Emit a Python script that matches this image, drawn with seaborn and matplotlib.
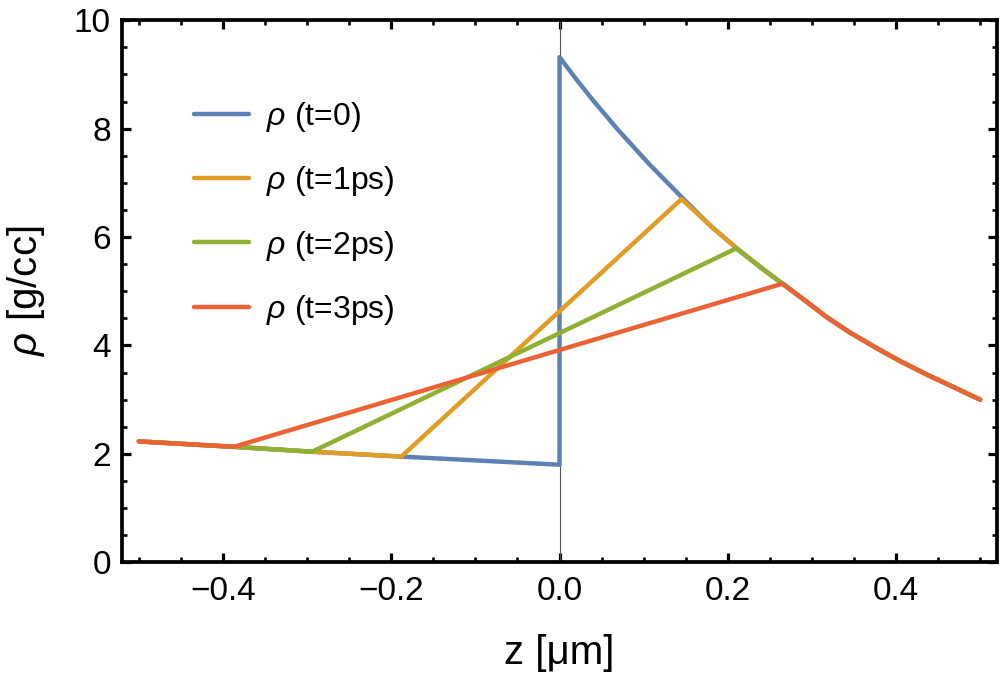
import pandas as pd
import seaborn as sns
import matplotlib.pyplot as plt
from matplotlib.ticker import MultipleLocator

# density profiles
tail_z = [0.18, 0.21, 0.24, 0.265, 0.29, 0.317, 0.345, 0.377, 0.405, 0.437, 0.47, 0.5]
tail_rho = [6.2, 5.8, 5.43, 5.14, 4.85, 4.53, 4.24, 3.95, 3.71, 3.46, 3.22, 3.0]

t0_z = [-0.5, -0.387, -0.294, -0.188, 0.0, 0.0, 0.02, 0.04, 0.07, 0.107, 0.145] + tail_z
t0_rho = [2.23, 2.13, 2.04, 1.95, 1.80, 9.32, 8.91, 8.52, 7.97, 7.34, 6.74] + tail_rho

t1_z = [-0.5, -0.387, -0.294, -0.188, 0.145] + tail_z
t1_rho = [2.23, 2.13, 2.04, 1.95, 6.7] + tail_rho

t2_z = [-0.5, -0.387, -0.294, 0.21] + tail_z[2:]
t2_rho = [2.23, 2.13, 2.04, 5.79] + tail_rho[2:]

t3_z = [-0.5, -0.387, 0.265] + tail_z[4:]
t3_rho = [2.23, 2.13, 5.14] + tail_rho[4:]

labels = [r"$\rho$ (t=0)", r"$\rho$ (t=1ps)", r"$\rho$ (t=2ps)", r"$\rho$ (t=3ps)"]
colors = ["#5E81B5", "#E19C24", "#8FB032", "#EB6235"]

frames = []
for lab, zs, rs in zip(labels, [t0_z, t1_z, t2_z, t3_z], [t0_rho, t1_rho, t2_rho, t3_rho]):
    frames.append(pd.DataFrame({"z": zs, "rho": rs, "series": lab}))
data = pd.concat(frames, ignore_index=True)

sns.set_style("ticks")
plt.rcParams["font.family"] = ["Liberation Sans", "DejaVu Sans"]
plt.rcParams["mathtext.fontset"] = "custom"
plt.rcParams["mathtext.rm"] = "Liberation Sans"
plt.rcParams["mathtext.it"] = "Liberation Sans:italic"
for key in ["text.color", "axes.labelcolor", "xtick.color", "ytick.color"]:
    plt.rcParams[key] = "black"

fig = plt.figure(figsize=(10, 6.75), dpi=100)
ax = fig.add_axes([0.122, 0.167, 0.875, 0.803])

# thin axis line at z=0
ax.axvline(0, color="#555555", lw=0.8, zorder=1)

sns.lineplot(data=data, x="z", y="rho", hue="series", palette=colors,
             sort=False, estimator=None, lw=3.2, ax=ax, zorder=3)

ax.set_xlim(-0.52, 0.52)
ax.set_ylim(0, 10)
ax.xaxis.set_minor_locator(MultipleLocator(0.05))
ax.yaxis.set_major_locator(MultipleLocator(2))
ax.yaxis.set_minor_locator(MultipleLocator(0.5))
ax.set_xticks([-0.4, -0.2, 0.0, 0.2, 0.4])
ax.set_xticklabels(["\u22120.4", "\u22120.2", "0.0", "0.2", "0.4"])

for s in ax.spines.values():
    s.set_linewidth(2.7)
    s.set_color("black")
ax.tick_params(which="both", direction="in", top=True, right=True, color="black")
ax.tick_params(which="major", length=6.5, width=2.3, labelsize=24)
ax.tick_params(which="minor", length=3.6, width=1.9)
ax.tick_params(axis="x", which="major", pad=10)
ax.tick_params(axis="y", which="major", pad=8)

ax.set_xlabel("z [\u03bcm]", fontsize=29, labelpad=19)
ax.set_ylabel(r"$\rho$ [g/cc]", fontsize=29, labelpad=19)

ax.legend(frameon=False, fontsize=23, loc="upper left", bbox_to_anchor=(0.049, 0.906),
          handlelength=1.72, handletextpad=0.53, labelspacing=0.95)

fig.savefig("out.png", dpi=100)
